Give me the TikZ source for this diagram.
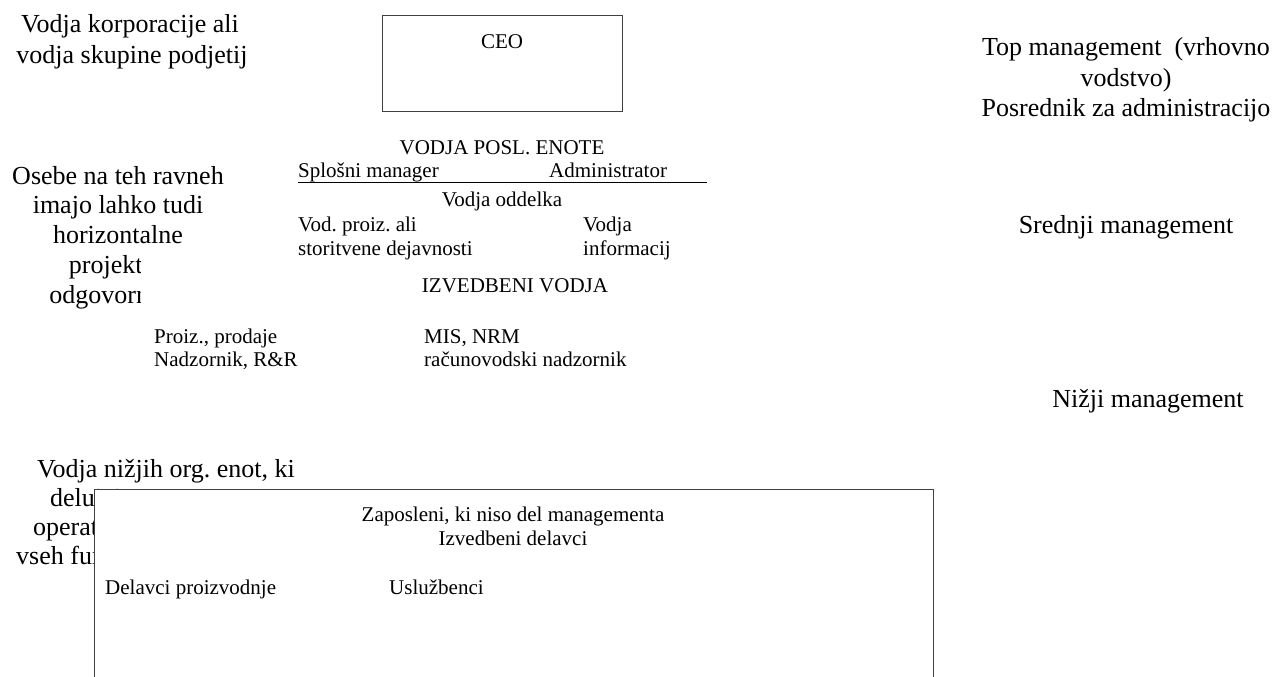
\documentclass[tikz,border=0pt]{standalone}
\usepackage{fontspec}
\setmainfont{Liberation Serif}
\frenchspacing

\begin{document}
\begin{tikzpicture}[x=1pt, y=-1pt,
		big/.style={inner sep=0pt, anchor=base, font=\fontsize{26}{30}\selectfont},
		small/.style={inner sep=0pt, anchor=base west, font=\fontsize{21}{24}\selectfont},
		frame/.style={draw=black!75, line width=1pt}]
		\useasboundingbox (0, 0) rectangle (1278, 677);
	
		\node[big] (corp1) at (130, 33) {Vodja korporacije ali};
		\node[big] (corp2) at (132, 64) {vodja skupine podjetij};
		
		\draw[frame] (382, 16) rectangle (622, 111);
		\node[small, anchor=base] (ceo) at (502, 49) {CEO};
		
		\node[big] (top1) at (1126, 56) {Top management\ \ (vrhovno};
		\node[big] (top2) at (1126, 87) {vodstvo)};
		\node[big] (top3) at (1126, 117) {Posrednik za administracijo};
		\node[big] (mid) at (1126, 233) {Srednji management};
		\node[big] (low) at (1148, 407) {Nižji management};
		
		\node[small, anchor=base] (bu) at (502, 154) {VODJA POSL. ENOTE};
		\node[small] (gm) at (298, 177) {Splošni manager};
		\node[small] (adm) at (549, 177) {Administrator};
		\draw[line width=1pt] (298, 182) -- (707, 182);
		\node[small, anchor=base] (dept) at (502, 206) {Vodja oddelka};
		\node[small] (prod1) at (298, 231) {Vod. proiz. ali};
		\node[small] (prod2) at (298, 255) {storitvene dejavnosti};
		\node[small] (info1) at (583, 231) {Vodja};
		\node[small] (info2) at (583, 255) {informacij};
		\node[small, anchor=base] (exec) at (515, 292) {IZVEDBENI VODJA};
		
		\node[big] (hor1) at (118, 184) {Osebe na teh ravneh};
		\node[big] (hor2) at (118, 213) {imajo lahko tudi};
		\node[big] (hor3) at (118, 243) {horizontalne};
		\begin{scope}
			\clip (0, 250) rectangle (140, 320);
			\node[big] (hor4) at (118, 273) {projektne};
			\node[big] (hor5) at (118, 303) {odgovornosti};
		\end{scope}
		
		\node[small] (sup1) at (154, 343) {Proiz., prodaje};
		\node[small] (sup2) at (154, 366) {Nadzornik, R\&R};
		\node[small] (mis1) at (424, 343) {MIS, NRM};
		\node[small] (mis2) at (424, 366) {računovodski nadzornik};
		
		\node[big] (op1) at (166, 477) {Vodja nižjih org. enot, ki};
		\node[big, anchor=base west] (op2) at (50, 506) {delujejo};
		\node[big, anchor=base west] (op3) at (33, 535) {operativni};
		\node[big, anchor=base west] (op4) at (16, 564) {vseh funkcij};
		
		\draw[frame, fill=white] (94, 678) -- (94, 489) -- (933, 489) -- (933, 678);
		\node[small, anchor=base] (emp1) at (513, 521) {Zaposleni, ki niso del managementa};
		\node[small, anchor=base] (emp2) at (513, 545) {Izvedbeni delavci};
		\node[small] (work) at (105, 594) {Delavci proizvodnje};
		\node[small] (clerk) at (389, 594) {Uslužbenci};
	\end{tikzpicture}
\end{document}
